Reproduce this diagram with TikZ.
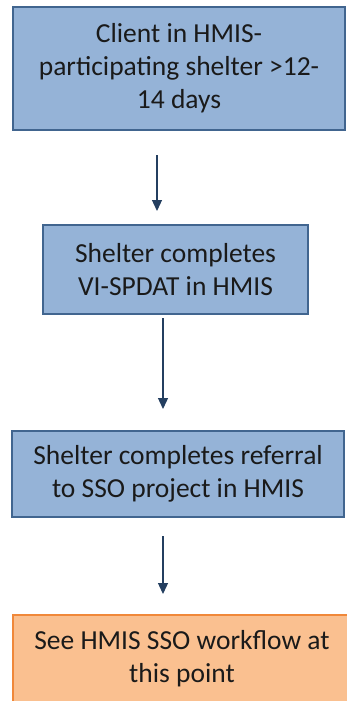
\documentclass[tikz,border=0pt]{standalone}
\usepackage{fontspec}
\setmainfont{Carlito}
\usetikzlibrary{arrows.meta}
\definecolor{bfill}{HTML}{95B3D7}
\definecolor{bdraw}{HTML}{41658F}
\definecolor{ofill}{HTML}{FAC090}
\definecolor{odraw}{HTML}{F0883A}
\definecolor{arrc}{HTML}{243F60}
\definecolor{txt}{HTML}{1A1A1A}
\begin{document}
\begin{tikzpicture}[x=1pt,y=-1pt,
  bluebox/.style={draw=bdraw,fill=bfill,line width=1.3pt,inner sep=0pt,align=center,text=txt,
    font=\fontsize{27.5}{33}\selectfont},
  orangebox/.style={draw=odraw,fill=ofill,line width=1.5pt,inner sep=0pt,align=center,text=txt,
    font=\fontsize{27.5}{33}\selectfont},
  arr/.style={draw=arrc,line width=1.3pt,-{Triangle[width=10pt,length=11pt]}}]
\useasboundingbox (0,0) rectangle (347,701);
\fill[white] (0,0) rectangle (347,701);
\node[bluebox,minimum width=332pt,minimum height=123pt] (b1) at (179,68.5)
  {Client in HMIS-\\participating shelter >12-\\14 days};
\node[bluebox,minimum width=265pt,minimum height=89pt] (b2) at (175.5,269.5)
  {Shelter completes\\VI-SPDAT in HMIS};
\node[bluebox,minimum width=332pt,minimum height=86pt] (b3) at (178,474)
  {Shelter completes referral\\to SSO project in HMIS};
\node[orangebox,minimum width=338pt,minimum height=88pt] (b4) at (182,659)
  {See HMIS SSO workflow at\\this point};
\coordinate (a1s) at (157,155);
\coordinate (a1e) at (157,211);
\coordinate (a2s) at (163,318);
\coordinate (a2e) at (163,409);
\coordinate (a3s) at (163,536);
\coordinate (a3e) at (163,594);
\draw[arr] (a1s) -- (a1e);
\draw[arr] (a2s) -- (a2e);
\draw[arr] (a3s) -- (a3e);
\end{tikzpicture}
\end{document}
